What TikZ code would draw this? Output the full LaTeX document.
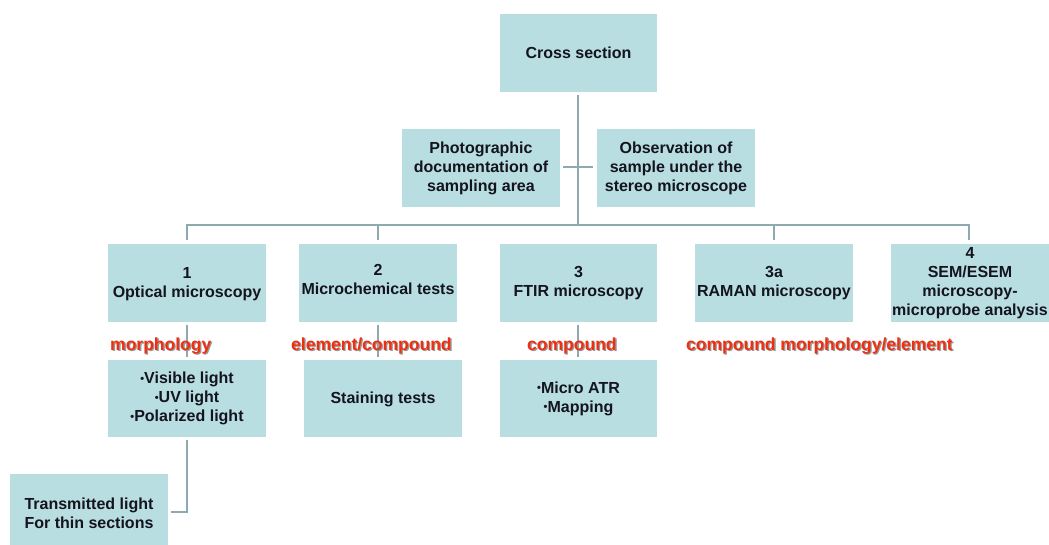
\documentclass[tikz,border=0pt]{standalone}
\usepackage{fontspec}
\setmainfont{Liberation Sans}
\definecolor{boxfill}{RGB}{184,222,226}
\definecolor{lineclr}{RGB}{140,170,176}
\definecolor{txt}{RGB}{20,20,30}
\definecolor{redlab}{RGB}{238,48,18}
\newcommand{\bul}{\raisebox{0.15ex}{\fontsize{11}{11}\selectfont •}}
\begin{document}
\begin{tikzpicture}[x=1pt,y=-1pt,
  bx/.style={fill=boxfill,draw=none,inner sep=0pt,align=center,text=txt,
    font=\bfseries\fontsize{16}{19}\selectfont},
  conn/.style={draw=lineclr,line width=2.4pt},
  lab/.style={anchor=west,inner sep=0pt,text=redlab,font=\bfseries\fontsize{17.5}{20}\selectfont}]
\useasboundingbox (0,0) rectangle (1049,545);
\newcommand{\mybox}[7]{%
  \fill[boxfill] (#2,#3) rectangle (#4,#5);
  \node[bx] (#1) at ({(#2+#4)/2},{(#3+#5)/2+#6}) {#7};}
\mybox{cross}{500}{14}{657}{92}{0}{Cross section}
\mybox{photo}{402}{129}{560}{207}{0}{Photographic\\documentation of\\sampling area}
\mybox{obs}{597}{129}{755}{207}{0}{Observation of\\sample under the\\stereo microscope}
\mybox{b1}{108}{244}{266}{322}{1}{1\\Optical microscopy}
\mybox{b2}{299}{244}{457}{322}{-4}{2\\Microchemical tests}
\mybox{b3}{500}{244}{657}{322}{0}{3\\FTIR microscopy}
\mybox{b3a}{695}{244}{853}{322}{0}{3a\\RAMAN microscopy}
\mybox{b4}{891}{244}{1049}{322}{0}{4\\SEM/ESEM\\microscopy-\\microprobe analysis}
\mybox{s1}{108}{360}{266}{437}{0}{\bul Visible light\\\bul UV light\\\bul Polarized light}
\mybox{s2}{304}{360}{462}{437}{1}{Staining tests}
\mybox{s3}{500}{360}{657}{437}{0}{\bul Micro ATR\\\bul Mapping}
\fill[boxfill] (10,474) rectangle (168,552);
\node[bx] (tr) at (89,513) {Transmitted light\\For thin sections};
% connectors
\coordinate (bus) at (578,225);
\draw[conn] (578,95) -- (bus);
\draw[conn] (187,240) -- (187,225) -- (969,225) -- (969,240);
\draw[conn] (378,225) -- (378,240);
\draw[conn] (774,225) -- (774,240);
\draw[conn] (563,167) -- (593,167);
\draw[conn] (187,325) -- (187,357);
\draw[conn] (378,325) -- (378,357);
\draw[conn] (578,325) -- (578,357);
\draw[conn] (187,440) -- (187,512) -- (171,512);
% red labels with shadow
\foreach \t/\x [count=\i] in {morphology/110,element\slash compound/291,compound/527,compound morphology\slash element/686}{
  \node[lab,text=black!40] at (\x+1.3,347.3) {\t};
  \node[lab] (lab\i) at (\x,346) {\t};
}
\end{tikzpicture}
\end{document}
